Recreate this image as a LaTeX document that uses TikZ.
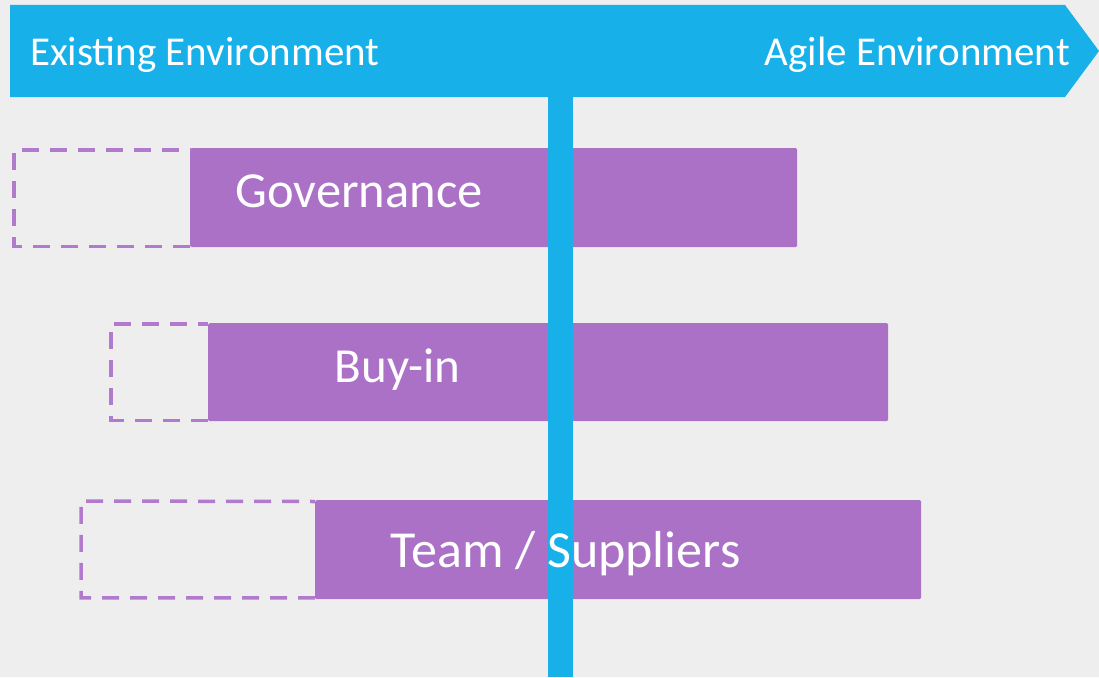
\documentclass[tikz,border=0pt]{standalone}
\usepackage{fontspec}
\setmainfont{Carlito}
\usetikzlibrary{positioning}

\definecolor{pagegray}{HTML}{EEEEEE}
\definecolor{skyblue}{HTML}{17B0E8}
\definecolor{lilac}{HTML}{AB71C6}
\definecolor{lilacline}{HTML}{B17ACC}

\begin{document}
\begin{tikzpicture}[x=1pt, y=-1pt,
		bar/.style={fill=lilac, rounded corners=1.5pt, inner sep=0pt, anchor=north west},
		gapline/.style={draw=lilacline, line width=3.5pt, dash pattern=on 17pt off 11pt},
		label/.style={text=white, inner sep=0pt, anchor=base}]
	\fill[pagegray] (0,0) rectangle (1099,677);
	\useasboundingbox (0,0) rectangle (1099,677);

	% banner
	\fill[skyblue] (10,5) -- (1065,5) -- (1099,51) -- (1065,97) -- (10,97) -- cycle;
	\node[label, anchor=base west, font=\fontsize{41}{41}\selectfont] (old) at (30,66) {Existing Environment};
	\node[label, anchor=base east, font=\fontsize{41}{41}\selectfont] (new) at (1070,65) {Agile Environment};

	% bars
	\node[bar, minimum width=607pt, minimum height=99pt] (gov) at (190,148) {};
	\node[bar, minimum width=680pt, minimum height=98pt] (buy) at (208,323) {};
	\node[bar, minimum width=606pt, minimum height=99pt] (team) at (315,500) {};

	% dashed gaps in front of the bars
	\draw[gapline] ([yshift=1pt]gov.south west) -| (14,150) -- ([yshift=-2pt]gov.north west);
	\draw[gapline] ([yshift=1pt]buy.south west) -| (111,324) -- ([yshift=-1pt]buy.north west);
	\draw[gapline] ([yshift=1.5pt]team.south west) -| (81,501) -- ([yshift=-1.5pt]team.north west);

	% divider
	\fill[skyblue] (548,97) rectangle (573,677);

	\node[label, font=\fontsize{50.5}{50.5}\selectfont] (govtext) at (359,207) {Governance};
	\node[label, font=\fontsize{49}{49}\selectfont] (buytext) at (397.5,382) {Buy-in};
	\node[label, font=\fontsize{52}{52}\selectfont] (teamtext) at (565.5,567) {Team / Suppliers};
\end{tikzpicture}
\end{document}
